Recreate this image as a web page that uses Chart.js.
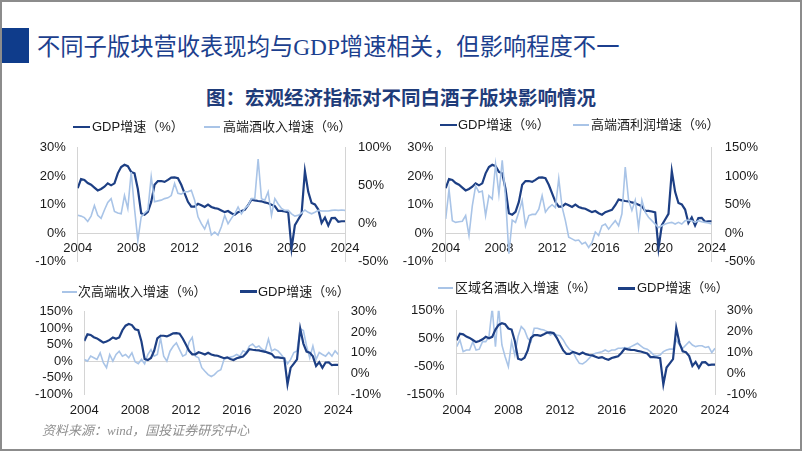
<!DOCTYPE html>
<html><head><meta charset="utf-8">
<script src="https://cdn.jsdelivr.net/npm/chart.js@4.4.1/dist/chart.umd.min.js"></script>
<style>
html,body{margin:0;padding:0;background:#fff;}
#page{position:relative;width:802px;height:451px;overflow:hidden;font-family:"Liberation Sans","Noto Sans CJK SC",sans-serif;color:#1a1a1a;}
.frame{position:absolute;left:0;top:0;width:798px;height:447px;border:2px solid #8c8c8c;}
.bar{position:absolute;left:2px;top:28px;width:27px;height:35px;background:#0f3c8b;}
.title{position:absolute;left:37px;top:30px;height:34px;line-height:34px;font-size:23.3px;color:#1c3f8e;font-family:"Liberation Serif","Noto Sans CJK SC",serif;white-space:nowrap;}
.sub{position:absolute;left:0;width:802px;top:85px;line-height:24px;text-align:center;font-size:19.5px;font-weight:bold;color:#1f3c7a;font-family:"Noto Sans CJK SC",sans-serif;white-space:nowrap;}
.src{position:absolute;left:42px;top:422px;line-height:18px;font-size:13px;font-style:italic;color:#8f8f8f;font-family:"Liberation Serif","Noto Sans CJK SC",serif;white-space:nowrap;}
canvas{position:absolute;}
.lg{position:absolute;font-size:13px;line-height:16px;white-space:nowrap;color:#1a1a1a;}
.ln{position:absolute;}
</style></head>
<body><div id="page">
<div class="frame"></div>
<div class="bar"></div>
<div class="title">不同子版块营收表现均与GDP增速相关，但影响程度不一</div>
<div class="sub">图：宏观经济指标对不同白酒子版块影响情况</div>
<canvas id="c1" width="380" height="145" style="left:20px;top:130px"></canvas>
<canvas id="c2" width="398" height="145" style="left:400px;top:130px"></canvas>
<canvas id="c3" width="380" height="127" style="left:20px;top:298px"></canvas>
<canvas id="c4" width="398" height="127" style="left:400px;top:298px"></canvas>
<div class="src">资料来源：wind，国投证券研究中心</div>
</div>
<script>
// ---- categories (quarters 2004Q1 .. 2024Q1) ----
const quarters = [];
for (let y = 2004; y <= 2024; y++) {
  for (let q = 1; q <= 4; q++) {
    if (y === 2024 && q > 1) break;
    quarters.push(y + 'Q' + q);
  }
}
const xTicks = [2004, 2008, 2012, 2016, 2020, 2024];

// ---- series (%) ----
const gdpGrowth = [
  15.8, 19.0, 18.7, 17.6,
  17.0, 16.0, 15.0, 15.5,
  16.3, 17.5, 16.8, 17.5,
  21.0, 23.2, 24.0, 23.5,
  21.5, 21.0, 15.5, 7.0,
  6.5, 7.5, 11.0, 17.0,
  18.3, 18.3, 18.0, 18.7,
  19.5, 19.6, 19.3, 17.0,
  14.0, 11.0, 9.3, 9.3,
  10.3, 9.8, 9.2, 10.0,
  9.2, 8.8, 8.6, 8.0,
  7.4, 7.8, 7.0, 6.5,
  7.4, 7.8, 8.2, 9.8,
  11.8, 11.5, 11.3, 11.2,
  10.8, 10.5, 10.0, 9.5,
  7.8, 7.8, 7.6, 7.3,
  -5.3, 2.8, 4.8, 6.8,
  21.8, 14.5, 10.6, 10.1,
  8.3, 3.6, 5.5, 2.7,
  5.3, 5.4, 4.0, 4.2,
  4.2
];
const highEndRevenue = [
  11, 10, 8, 3,
  10, 24, 11, 7,
  18, 28, 33, 16,
  14, 13, 37, 20,
  68, 20, -22, 9,
  14, 18, 62, 29,
  30, 31, 33, 34,
  37, 53, 40, 39,
  42, 42, 44, 31,
  9, 0, -7, 4,
  -15, -11, -15, -4,
  11, 0, 7, 13,
  22, 13, 20, 24,
  33, 33, 85, 33,
  31, 42, 11, 33,
  26, 20, 17.5, 17.5,
  13, 10, 11, 14,
  18, 15, 13, 15,
  17.5, 16.7, 16.7, 16.7,
  17.5, 18, 17.5, 18,
  17.5
];
const highEndProfit = [
  25, 77, 22, 19,
  20, 21, 31, -4,
  48, 83, 72, 74,
  31, 66, 60, 121,
  68, 128, 63, -36,
  23, 19, 37, 57,
  13, 31, 33, 33,
  42, 66, 37, 45,
  50, 45, 96, 46,
  22, -7, -10, -13,
  -12, -19, -16, -25,
  -16, 2, -4, 13,
  16, 7, 15, 22,
  13, 34, 116, 58,
  40, 58, 10, 58,
  37, 28, 22, 16,
  10, 13, 16, 18,
  19, 16, 19, 16,
  22, 23, 22, 19,
  22, 20, 19, 18,
  16
];
const subHighEndRevenue = [
  5, 0, 15, 10,
  5, 25, -5, -20,
  20, 0, 20, 30,
  15, 20, 10, 25,
  -2, -8, 5, -8,
  20, 35, 15, 20,
  70, 15, 0, 30,
  45, 55, 35, 15,
  20, 57, 72, 15,
  10, -20, -31, -41,
  -47, -41, -31, -26,
  5, 10, 12, 15,
  20, 15, 31, 26,
  46, 52, 41, 46,
  36, 31, 67, 31,
  36, 31, 20, 8,
  -8, 5, 26, 31,
  98, 93, 46, 10,
  46, 5, 26, 20,
  15, 26, 15, 31,
  20
];
const regionalRevenue = [
  21, 45, 3, 9,
  9, 39, 9, 12,
  39, 39, 57, 160,
  21, 160, 27, -15,
  -51, 39, -9, 57,
  93, 81, 51, 39,
  87, 87, 83, 81,
  75, 63, 69, 63,
  60, 45, 25, 10,
  3, -21, -39, -41,
  -33, -21, -9, -3,
  0, 3, 9, 3,
  9, 9, 15, 15,
  18, 15, 21, 27,
  33, 24, 15, 12,
  3, -9, -12, -9,
  3, 9, 12, 12,
  45, 27, 15, 27,
  39, 27, 21, 24,
  24, 18, 21, 0,
  15
];

// ---- axis tick labels ----
const c1Left = [-10, 0, 10, 20, 30], c1Right = [-50, 0, 50, 100];
const c2Left = [-10, 0, 10, 20, 30], c2Right = [-50, 0, 50, 100, 150];
const c3Left = [-100, -50, 0, 50, 100, 150], c3Right = [-10, 0, 10, 20, 30];
const c4Left = [-150, -50, 50, 150], c4Right = [-10, 0, 10, 20, 30];

const labelSeries = {
  gdp: 'GDP增速（%）',
  c1: '高端酒收入增速（%）',
  c2: '高端酒利润增速（%）',
  c3: '次高端收入增速（%）',
  c4: '区域名酒收入增速（%）'
};

const DARK = '#1d3f84', LIGHT = '#a9c4e7', AXIS = '#d4d4d4';
const xOf = s => +s.slice(0, 4) + (+s.slice(5) - 1) / 4;
const pts = arr => quarters.map((q, i) => ({ x: xOf(q), y: arr[i] }));

Chart.defaults.font.family = '"Liberation Sans","Noto Sans CJK SC",sans-serif';
Chart.defaults.font.size = 13;
Chart.defaults.color = '#1a1a1a';

const zeroLine = {
  id: 'zeroLine',
  beforeDatasetsDraw(chart, args, o) {
    if (!o || !o.axis) return;
    const s = chart.scales[o.axis], a = chart.chartArea, ctx = chart.ctx;
    const y = Math.round(s.getPixelForValue(0)) + 0.5;
    ctx.save(); ctx.strokeStyle = AXIS; ctx.lineWidth = 1;
    ctx.beginPath(); ctx.moveTo(a.left, y); ctx.lineTo(a.right, y); ctx.stroke(); ctx.restore();
  }
};

function yScale(pos, ticksArr, width, pad) {
  return {
    position: pos,
    min: Math.min(...ticksArr), max: Math.max(...ticksArr),
    afterBuildTicks: s => { s.ticks = ticksArr.map(v => ({ value: v })); },
    afterFit: s => { s.width = width; s.paddingTop = 0; s.paddingBottom = 0; },
    grid: { display: false, drawTicks: false },
    border: { display: true, color: AXIS, width: 1 },
    ticks: { padding: pad, autoSkip: false, callback: v => v + '%' }
  };
}

function makeChart(id, cfg) {
  const xScale = {
    type: 'linear', min: 2004, max: 2024,
    afterBuildTicks: s => { s.ticks = xTicks.map(v => ({ value: v })); },
    grid: { display: false, drawTicks: false },
    ticks: { padding: cfg.xPad, maxRotation: 0, autoSkip: false, callback: v => String(v) }
  };
  if (cfg.xAtZero) {
    xScale.position = { y: 0 };
    xScale.border = { display: true, color: AXIS, width: 1 };
  } else {
    xScale.position = 'bottom';
    xScale.border = { display: false };
  }
  xScale.afterFit = s => { if (!cfg.xAtZero) s.height = cfg.xHeight; s.paddingLeft = 0; s.paddingRight = 0; };
  return new Chart(document.getElementById(id), {
    type: 'line',
    data: {
      datasets: cfg.series.map(d => ({
        label: d.label, data: pts(d.data), yAxisID: d.axis,
        borderColor: d.color, backgroundColor: d.color, borderWidth: d.width,
        pointRadius: 0, tension: 0, order: d.order, fill: false
      }))
    },
    options: {
      responsive: false, maintainAspectRatio: false, animation: false,
      layout: { padding: { left: 0, right: 0, top: cfg.padTop, bottom: cfg.padBottom } },
      plugins: { legend: { display: false }, tooltip: { enabled: false }, zeroLine: { axis: cfg.zeroAxis || null } },
      scales: {
        x: xScale,
        y: yScale('left', cfg.left, cfg.leftW, cfg.leftPad),
        y1: yScale('right', cfg.right, cfg.rightW, cfg.rightPad)
      }
    },
    plugins: [zeroLine]
  });
}

// Chart 1
makeChart('c1', {
  xAtZero: true, xPad: 7, padTop: 17.7, padBottom: 13.3,
  left: c1Left, right: c1Right, leftW: 57.7, rightW: 55, leftPad: 12, rightPad: 13,
  series: [
    { label: labelSeries.gdp, data: gdpGrowth, axis: 'y', color: DARK, width: 2.2, order: 1 },
    { label: labelSeries.c1, data: highEndRevenue, axis: 'y1', color: LIGHT, width: 1.6, order: 0 }
  ]
});
// Chart 2
makeChart('c2', {
  xAtZero: true, xPad: 7, padTop: 17.7, padBottom: 13.3,
  left: c2Left, right: c2Right, leftW: 45.7, rightW: 86.3, leftPad: 12.5, rightPad: 13,
  series: [
    { label: labelSeries.gdp, data: gdpGrowth, axis: 'y', color: DARK, width: 2.2, order: 1 },
    { label: labelSeries.c2, data: highEndProfit, axis: 'y1', color: LIGHT, width: 1.6, order: 0 }
  ]
});
// Chart 3
makeChart('c3', {
  xAtZero: false, xPad: 8.2, xHeight: 22, padTop: 13.7, padBottom: 9, zeroAxis: 'y',
  left: c3Left, right: c3Right, leftW: 64.3, rightW: 61.7, leftPad: 11.6, rightPad: 12.4,
  series: [
    { label: labelSeries.c3, data: subHighEndRevenue, axis: 'y', color: LIGHT, width: 1.6, order: 1 },
    { label: labelSeries.gdp, data: gdpGrowth, axis: 'y1', color: DARK, width: 2.2, order: 0 }
  ]
});
// Chart 4
makeChart('c4', {
  xAtZero: false, xPad: 8.2, xHeight: 22, padTop: 12.7, padBottom: 8.7, zeroAxis: 'y',
  left: c4Left, right: c4Right, leftW: 56.7, rightW: 83, leftPad: 12.4, rightPad: 11.7,
  series: [
    { label: labelSeries.c4, data: regionalRevenue, axis: 'y', color: LIGHT, width: 1.6, order: 1 },
    { label: labelSeries.gdp, data: gdpGrowth, axis: 'y1', color: DARK, width: 2.2, order: 0 }
  ]
});

// ---- legends (HTML text) ----
const legends = [
  { y: 127, items: [{ x1: 73, x2: 90, tx: 92, color: DARK, w: 2.5, text: labelSeries.gdp }, { x1: 204, x2: 220, tx: 223, color: LIGHT, w: 2, text: labelSeries.c1 }] },
  { y: 125, items: [{ x1: 440, x2: 457, tx: 458, color: DARK, w: 2.5, text: labelSeries.gdp }, { x1: 573, x2: 589, tx: 591, color: LIGHT, w: 2, text: labelSeries.c2 }] },
  { y: 291.7, items: [{ x1: 62, x2: 77, tx: 78, color: LIGHT, w: 2, text: labelSeries.c3 }, { x1: 240, x2: 257, tx: 258, color: DARK, w: 2.5, text: labelSeries.gdp }] },
  { y: 288.3, items: [{ x1: 438, x2: 453, tx: 455, color: LIGHT, w: 2, text: labelSeries.c4 }, { x1: 618, x2: 635, tx: 637, color: DARK, w: 2.5, text: labelSeries.gdp }] }
];
const page = document.getElementById('page');
legends.forEach(L => L.items.forEach(it => {
  const ln = document.createElement('div');
  ln.className = 'ln';
  ln.style.left = it.x1 + 'px'; ln.style.width = (it.x2 - it.x1) + 'px';
  ln.style.top = (L.y - it.w / 2) + 'px'; ln.style.height = it.w + 'px'; ln.style.background = it.color;
  page.appendChild(ln);
  const t = document.createElement('div');
  t.className = 'lg'; t.textContent = it.text;
  t.style.left = it.tx + 'px'; t.style.top = (L.y - 8) + 'px';
  page.appendChild(t);
}));
</script>
</body></html>
